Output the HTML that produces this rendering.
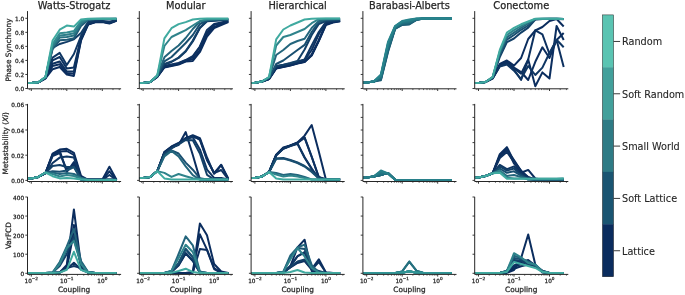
<!DOCTYPE html>
<html><head><meta charset="utf-8"><title>figure</title>
<style>html,body{margin:0;padding:0;background:#fff;} svg{display:block;font-family:'DejaVu Sans', 'Liberation Sans', sans-serif;} text{stroke:#262626;stroke-width:0.25px;}</style>
</head><body>
<svg width="685" height="295" viewBox="0 0 685 295">
<rect width="685" height="295" fill="#ffffff"/>
<text x="74.05" y="8.8" font-size="9.8" text-anchor="middle" fill="#262626">Watts-Strogatz</text>
<text x="185.85" y="8.8" font-size="9.8" text-anchor="middle" fill="#262626">Modular</text>
<text x="297.65" y="8.8" font-size="9.8" text-anchor="middle" fill="#262626">Hierarchical</text>
<text x="409.45" y="8.8" font-size="9.8" text-anchor="middle" fill="#262626">Barabasi-Alberts</text>
<text x="521.25" y="8.8" font-size="9.8" text-anchor="middle" fill="#262626">Conectome</text>
<polyline points="27.75,83.00 31.30,82.90 38.40,82.30 45.50,78.50 52.60,69.20 59.70,67.00 66.80,74.50 73.90,75.90 81.00,40.50 88.10,24.50 95.20,22.30 102.30,22.00 109.40,23.50 116.50,20.80" fill="none" stroke="#0b2d5e" stroke-width="2" stroke-linejoin="round" stroke-linecap="butt"/>
<polyline points="27.75,83.00 31.30,82.90 38.40,82.30 45.50,78.00 52.60,66.00 59.70,64.30 66.80,73.00 73.90,73.80 81.00,39.50 88.10,24.20 95.20,22.00 102.30,21.80 109.40,23.00 116.50,20.50" fill="none" stroke="#0c2e5f" stroke-width="2" stroke-linejoin="round" stroke-linecap="butt"/>
<polyline points="27.75,83.00 31.30,82.90 38.40,82.30 45.50,78.00 52.60,63.70 59.70,61.50 66.80,71.50 73.90,71.50 81.00,38.50 88.10,24.00 95.20,21.80 102.30,21.50 109.40,23.00 116.50,20.30" fill="none" stroke="#0c305f" stroke-width="2" stroke-linejoin="round" stroke-linecap="butt"/>
<polyline points="27.75,83.00 31.30,82.90 38.40,82.30 45.50,78.00 52.60,60.30 59.70,57.00 66.80,68.40 73.90,67.50 81.00,37.50 88.10,23.70 95.20,21.50 102.30,21.50 109.40,22.50 116.50,20.10" fill="none" stroke="#0d3261" stroke-width="2" stroke-linejoin="round" stroke-linecap="butt"/>
<polyline points="27.75,83.00 31.30,82.90 38.40,82.30 45.50,77.50 52.60,57.60 59.70,52.90 66.80,65.00 73.90,54.00 81.00,36.00 88.10,23.30 95.20,21.00 102.30,21.00 109.40,22.00 116.50,20.00" fill="none" stroke="#0f3663" stroke-width="2" stroke-linejoin="round" stroke-linecap="butt"/>
<polyline points="27.75,83.00 31.30,82.90 38.40,82.30 45.50,77.50 52.60,48.00 59.70,44.00 66.80,41.90 73.90,39.30 81.00,33.00 88.10,22.00 95.20,19.80 102.30,19.50 109.40,19.50 116.50,19.20" fill="none" stroke="#113c66" stroke-width="2" stroke-linejoin="round" stroke-linecap="butt"/>
<polyline points="27.75,83.00 31.30,82.90 38.40,82.30 45.50,77.50 52.60,49.00 59.70,40.30 66.80,39.80 73.90,38.30 81.00,26.00 88.10,20.00 95.20,19.20 102.30,19.00 109.40,19.00 116.50,18.90" fill="none" stroke="#1e5975" stroke-width="2" stroke-linejoin="round" stroke-linecap="butt"/>
<polyline points="27.75,83.00 31.30,82.90 38.40,82.30 45.50,77.00 52.60,47.00 59.70,37.60 66.80,37.00 73.90,35.50 81.00,24.00 88.10,19.50 95.20,19.00 102.30,18.90 109.40,18.90 116.50,18.80" fill="none" stroke="#287282" stroke-width="2" stroke-linejoin="round" stroke-linecap="butt"/>
<polyline points="27.75,83.00 31.30,82.90 38.40,82.30 45.50,77.00 52.60,45.50 59.70,35.40 66.80,34.80 73.90,33.30 81.00,22.30 88.10,19.20 95.20,18.90 102.30,18.80 109.40,18.80 116.50,18.70" fill="none" stroke="#2d7e89" stroke-width="2" stroke-linejoin="round" stroke-linecap="butt"/>
<polyline points="27.75,83.00 31.30,82.90 38.40,82.30 45.50,77.00 52.60,44.00 59.70,33.20 66.80,32.60 73.90,31.00 81.00,21.00 88.10,18.90 95.20,18.80 102.30,18.70 109.40,18.70 116.50,18.70" fill="none" stroke="#338b90" stroke-width="2" stroke-linejoin="round" stroke-linecap="butt"/>
<polyline points="27.75,83.00 31.30,82.90 38.40,82.30 45.50,77.00 52.60,40.50 59.70,29.70 66.80,25.60 73.90,26.60 81.00,19.50 88.10,18.70 95.20,18.70 102.30,18.70 109.40,18.70 116.50,18.70" fill="none" stroke="#40aaa0" stroke-width="2" stroke-linejoin="round" stroke-linecap="butt"/>
<path d="M27.50,11.60 V88.80 H120.60" fill="none" stroke="#262626" stroke-width="1" stroke-linecap="square"/>
<path d="M25.30,88.50 H27.50 M25.30,74.46 H27.50 M25.30,60.42 H27.50 M25.30,46.38 H27.50 M25.30,32.34 H27.50 M25.30,18.30 H27.50 M31.30,88.80 v2.2 M66.80,88.80 v2.2 M102.30,88.80 v2.2 " stroke="#262626" stroke-width="0.9" fill="none"/>
<path d="M29.68,88.80 v1.3 M41.99,88.80 v1.3 M48.24,88.80 v1.3 M52.67,88.80 v1.3 M56.11,88.80 v1.3 M58.92,88.80 v1.3 M61.30,88.80 v1.3 M63.36,88.80 v1.3 M65.18,88.80 v1.3 M77.49,88.80 v1.3 M83.74,88.80 v1.3 M88.17,88.80 v1.3 M91.61,88.80 v1.3 M94.42,88.80 v1.3 M96.80,88.80 v1.3 M98.86,88.80 v1.3 M100.68,88.80 v1.3 M112.99,88.80 v1.3 M119.24,88.80 v1.3 " stroke="#262626" stroke-width="0.7" fill="none"/>
<text x="24.10" y="91.10" font-size="5.75" text-anchor="end" fill="#262626">0.0</text>
<text x="24.10" y="77.06" font-size="5.75" text-anchor="end" fill="#262626">0.2</text>
<text x="24.10" y="63.02" font-size="5.75" text-anchor="end" fill="#262626">0.4</text>
<text x="24.10" y="48.98" font-size="5.75" text-anchor="end" fill="#262626">0.6</text>
<text x="24.10" y="34.94" font-size="5.75" text-anchor="end" fill="#262626">0.8</text>
<text x="24.10" y="20.90" font-size="5.75" text-anchor="end" fill="#262626">1.0</text>
<polyline points="139.55,83.00 143.10,82.90 150.20,82.00 157.30,77.00 164.40,67.50 171.50,66.00 178.60,64.50 185.70,61.50 192.80,61.00 199.90,52.00 207.00,36.50 214.10,28.00 221.20,25.00 228.30,22.00" fill="none" stroke="#0b2d5e" stroke-width="2" stroke-linejoin="round" stroke-linecap="butt"/>
<polyline points="139.55,83.00 143.10,82.90 150.20,82.00 157.30,77.00 164.40,67.00 171.50,65.50 178.60,64.00 185.70,61.00 192.80,59.00 199.90,50.00 207.00,34.00 214.10,27.20 221.20,24.00 228.30,21.50" fill="none" stroke="#0b2d5e" stroke-width="2" stroke-linejoin="round" stroke-linecap="butt"/>
<polyline points="139.55,83.00 143.10,82.90 150.20,82.00 157.30,76.50 164.40,66.50 171.50,65.00 178.60,63.50 185.70,60.50 192.80,57.00 199.90,47.00 207.00,32.60 214.10,25.00 221.20,23.00 228.30,21.10" fill="none" stroke="#0b2e5f" stroke-width="2" stroke-linejoin="round" stroke-linecap="butt"/>
<polyline points="139.55,83.00 143.10,82.90 150.20,82.00 157.30,76.50 164.40,66.00 171.50,64.50 178.60,63.00 185.70,60.00 192.80,56.00 199.90,46.50 207.00,30.00 214.10,24.00 221.20,22.50 228.30,21.00" fill="none" stroke="#0d3160" stroke-width="2" stroke-linejoin="round" stroke-linecap="butt"/>
<polyline points="139.55,83.00 143.10,82.90 150.20,82.00 157.30,76.50 164.40,64.50 171.50,62.00 178.60,58.00 185.70,51.50 192.80,41.50 199.90,28.00 207.00,21.20 214.10,20.70 221.20,20.20 228.30,20.00" fill="none" stroke="#0f3663" stroke-width="2" stroke-linejoin="round" stroke-linecap="butt"/>
<polyline points="139.55,83.00 143.10,82.90 150.20,82.00 157.30,76.50 164.40,64.00 171.50,61.50 178.60,57.50 185.70,51.00 192.80,40.50 199.90,27.50 207.00,21.00 214.10,20.50 221.20,20.00 228.30,19.80" fill="none" stroke="#134068" stroke-width="2" stroke-linejoin="round" stroke-linecap="butt"/>
<polyline points="139.55,83.00 143.10,82.90 150.20,82.00 157.30,76.00 164.40,61.40 171.50,57.00 178.60,50.00 185.70,43.00 192.80,35.00 199.90,24.00 207.00,20.50 214.10,20.00 221.20,19.70 228.30,19.50" fill="none" stroke="#194f70" stroke-width="2" stroke-linejoin="round" stroke-linecap="butt"/>
<polyline points="139.55,83.00 143.10,82.90 150.20,82.00 157.30,75.50 164.40,57.30 171.50,51.00 178.60,45.50 185.70,38.00 192.80,29.00 199.90,21.50 207.00,19.80 214.10,19.50 221.20,19.30 228.30,19.20" fill="none" stroke="#23657c" stroke-width="2" stroke-linejoin="round" stroke-linecap="butt"/>
<polyline points="139.55,83.00 143.10,82.90 150.20,82.00 157.30,75.50 164.40,46.00 171.50,37.00 178.60,33.50 185.70,30.20 192.80,25.50 199.90,21.00 207.00,19.50 214.10,19.20 221.20,19.00 228.30,19.00" fill="none" stroke="#2f838b" stroke-width="2" stroke-linejoin="round" stroke-linecap="butt"/>
<polyline points="139.55,83.00 143.10,82.90 150.20,82.00 157.30,75.50 164.40,38.40 171.50,28.20 178.60,24.10 185.70,22.10 192.80,19.50 199.90,18.70 207.00,18.50 214.10,18.50 221.20,18.50 228.30,18.50" fill="none" stroke="#40aaa0" stroke-width="2" stroke-linejoin="round" stroke-linecap="butt"/>
<path d="M139.30,11.60 V88.80 H232.40" fill="none" stroke="#262626" stroke-width="1" stroke-linecap="square"/>
<path d="M137.10,88.50 H139.30 M137.10,74.46 H139.30 M137.10,60.42 H139.30 M137.10,46.38 H139.30 M137.10,32.34 H139.30 M137.10,18.30 H139.30 M143.10,88.80 v2.2 M178.60,88.80 v2.2 M214.10,88.80 v2.2 " stroke="#262626" stroke-width="0.9" fill="none"/>
<path d="M141.48,88.80 v1.3 M153.79,88.80 v1.3 M160.04,88.80 v1.3 M164.47,88.80 v1.3 M167.91,88.80 v1.3 M170.72,88.80 v1.3 M173.10,88.80 v1.3 M175.16,88.80 v1.3 M176.98,88.80 v1.3 M189.29,88.80 v1.3 M195.54,88.80 v1.3 M199.97,88.80 v1.3 M203.41,88.80 v1.3 M206.22,88.80 v1.3 M208.60,88.80 v1.3 M210.66,88.80 v1.3 M212.48,88.80 v1.3 M224.79,88.80 v1.3 M231.04,88.80 v1.3 " stroke="#262626" stroke-width="0.7" fill="none"/>
<polyline points="251.35,83.00 254.90,82.80 262.00,81.50 269.10,79.00 276.20,68.50 283.30,67.00 290.40,65.50 297.50,63.50 304.60,62.00 311.70,55.50 318.80,41.00 325.90,25.00 333.00,22.50 340.10,21.30" fill="none" stroke="#0b2d5e" stroke-width="2" stroke-linejoin="round" stroke-linecap="butt"/>
<polyline points="251.35,83.00 254.90,82.80 262.00,81.50 269.10,79.00 276.20,68.20 283.30,66.80 290.40,65.30 297.50,63.30 304.60,61.80 311.70,55.00 318.80,40.40 325.90,24.20 333.00,22.10 340.10,21.10" fill="none" stroke="#0b2d5e" stroke-width="2" stroke-linejoin="round" stroke-linecap="butt"/>
<polyline points="251.35,83.00 254.90,82.80 262.00,81.50 269.10,79.00 276.20,68.00 283.30,66.50 290.40,65.00 297.50,63.00 304.60,61.50 311.70,54.70 318.80,40.40 325.90,24.20 333.00,22.10 340.10,21.10" fill="none" stroke="#0b2e5f" stroke-width="2" stroke-linejoin="round" stroke-linecap="butt"/>
<polyline points="251.35,83.00 254.90,82.80 262.00,81.50 269.10,78.50 276.20,67.00 283.30,65.50 290.40,64.00 297.50,62.00 304.60,60.00 311.70,50.00 318.80,34.30 325.90,22.50 333.00,21.00 340.10,20.60" fill="none" stroke="#0d3160" stroke-width="2" stroke-linejoin="round" stroke-linecap="butt"/>
<polyline points="251.35,83.00 254.90,82.80 262.00,81.50 269.10,78.50 276.20,66.50 283.30,65.00 290.40,63.50 297.50,61.50 304.60,59.50 311.70,45.50 318.80,32.00 325.90,22.00 333.00,21.00 340.10,20.50" fill="none" stroke="#0f3663" stroke-width="2" stroke-linejoin="round" stroke-linecap="butt"/>
<polyline points="251.35,83.00 254.90,82.80 262.00,81.50 269.10,78.00 276.20,66.00 283.30,64.80 290.40,63.00 297.50,61.00 304.60,49.50 311.70,35.00 318.80,24.00 325.90,21.00 333.00,20.50 340.10,20.00" fill="none" stroke="#134068" stroke-width="2" stroke-linejoin="round" stroke-linecap="butt"/>
<polyline points="251.35,83.00 254.90,82.80 262.00,81.50 269.10,78.00 276.20,64.00 283.30,60.50 290.40,55.20 297.50,50.00 304.60,44.90 311.70,32.00 318.80,22.00 325.90,20.00 333.00,19.50 340.10,19.20" fill="none" stroke="#194f70" stroke-width="2" stroke-linejoin="round" stroke-linecap="butt"/>
<polyline points="251.35,83.00 254.90,82.80 262.00,81.50 269.10,77.50 276.20,55.00 283.30,50.00 290.40,44.00 297.50,41.00 304.60,38.80 311.70,28.00 318.80,21.00 325.90,19.50 333.00,19.20 340.10,19.00" fill="none" stroke="#23657c" stroke-width="2" stroke-linejoin="round" stroke-linecap="butt"/>
<polyline points="251.35,83.00 254.90,82.80 262.00,81.50 269.10,77.00 276.20,45.50 283.30,37.00 290.40,35.00 297.50,32.00 304.60,29.00 311.70,23.20 318.80,19.10 325.90,18.80 333.00,18.70 340.10,18.70" fill="none" stroke="#2f838b" stroke-width="2" stroke-linejoin="round" stroke-linecap="butt"/>
<polyline points="251.35,83.00 254.90,82.80 262.00,81.50 269.10,77.00 276.20,39.40 283.30,29.50 290.40,25.50 297.50,22.50 304.60,19.50 311.70,18.70 318.80,18.50 325.90,18.50 333.00,18.50 340.10,18.50" fill="none" stroke="#40aaa0" stroke-width="2" stroke-linejoin="round" stroke-linecap="butt"/>
<path d="M251.10,11.60 V88.80 H344.20" fill="none" stroke="#262626" stroke-width="1" stroke-linecap="square"/>
<path d="M248.90,88.50 H251.10 M248.90,74.46 H251.10 M248.90,60.42 H251.10 M248.90,46.38 H251.10 M248.90,32.34 H251.10 M248.90,18.30 H251.10 M254.90,88.80 v2.2 M290.40,88.80 v2.2 M325.90,88.80 v2.2 " stroke="#262626" stroke-width="0.9" fill="none"/>
<path d="M253.28,88.80 v1.3 M265.59,88.80 v1.3 M271.84,88.80 v1.3 M276.27,88.80 v1.3 M279.71,88.80 v1.3 M282.52,88.80 v1.3 M284.90,88.80 v1.3 M286.96,88.80 v1.3 M288.78,88.80 v1.3 M301.09,88.80 v1.3 M307.34,88.80 v1.3 M311.77,88.80 v1.3 M315.21,88.80 v1.3 M318.02,88.80 v1.3 M320.40,88.80 v1.3 M322.46,88.80 v1.3 M324.28,88.80 v1.3 M336.59,88.80 v1.3 M342.84,88.80 v1.3 " stroke="#262626" stroke-width="0.7" fill="none"/>
<polyline points="363.15,82.80 366.70,82.50 373.80,81.50 380.90,80.20 388.00,52.00 395.10,29.00 402.20,25.00 409.30,24.50 416.40,20.00 423.50,18.60 430.60,18.50 437.70,18.50 444.80,18.50 451.90,18.70" fill="none" stroke="#1c5a73" stroke-width="2" stroke-linejoin="round" stroke-linecap="butt"/>
<polyline points="363.15,82.80 366.70,82.50 373.80,81.50 380.90,79.57 388.00,50.89 395.10,28.67 402.20,24.56 409.30,23.94 416.40,19.83 423.50,18.60 430.60,18.50 437.70,18.50 444.80,18.50 451.90,18.70" fill="none" stroke="#1d5f76" stroke-width="2" stroke-linejoin="round" stroke-linecap="butt"/>
<polyline points="363.15,82.80 366.70,82.50 373.80,81.50 380.90,78.93 388.00,49.78 395.10,28.33 402.20,24.11 409.30,23.39 416.40,19.67 423.50,18.60 430.60,18.50 437.70,18.50 444.80,18.50 451.90,18.70" fill="none" stroke="#1f6379" stroke-width="2" stroke-linejoin="round" stroke-linecap="butt"/>
<polyline points="363.15,82.80 366.70,82.50 373.80,81.50 380.90,78.30 388.00,48.67 395.10,28.00 402.20,23.67 409.30,22.83 416.40,19.50 423.50,18.60 430.60,18.50 437.70,18.50 444.80,18.50 451.90,18.70" fill="none" stroke="#20687b" stroke-width="2" stroke-linejoin="round" stroke-linecap="butt"/>
<polyline points="363.15,82.80 366.70,82.50 373.80,81.50 380.90,77.67 388.00,47.56 395.10,27.67 402.20,23.22 409.30,22.28 416.40,19.33 423.50,18.60 430.60,18.50 437.70,18.50 444.80,18.50 451.90,18.70" fill="none" stroke="#216d7e" stroke-width="2" stroke-linejoin="round" stroke-linecap="butt"/>
<polyline points="363.15,82.80 366.70,82.50 373.80,81.50 380.90,77.03 388.00,46.44 395.10,27.33 402.20,22.78 409.30,21.72 416.40,19.17 423.50,18.60 430.60,18.50 437.70,18.50 444.80,18.50 451.90,18.70" fill="none" stroke="#237181" stroke-width="2" stroke-linejoin="round" stroke-linecap="butt"/>
<polyline points="363.15,82.80 366.70,82.50 373.80,81.50 380.90,76.40 388.00,45.33 395.10,27.00 402.20,22.33 409.30,21.17 416.40,19.00 423.50,18.60 430.60,18.50 437.70,18.50 444.80,18.50 451.90,18.70" fill="none" stroke="#247684" stroke-width="2" stroke-linejoin="round" stroke-linecap="butt"/>
<polyline points="363.15,82.80 366.70,82.50 373.80,81.50 380.90,75.77 388.00,44.22 395.10,26.67 402.20,21.89 409.30,20.61 416.40,18.83 423.50,18.60 430.60,18.50 437.70,18.50 444.80,18.50 451.90,18.70" fill="none" stroke="#257b86" stroke-width="2" stroke-linejoin="round" stroke-linecap="butt"/>
<polyline points="363.15,82.80 366.70,82.50 373.80,81.50 380.90,75.13 388.00,43.11 395.10,26.33 402.20,21.44 409.30,20.06 416.40,18.67 423.50,18.60 430.60,18.50 437.70,18.50 444.80,18.50 451.90,18.70" fill="none" stroke="#277f89" stroke-width="2" stroke-linejoin="round" stroke-linecap="butt"/>
<polyline points="363.15,82.80 366.70,82.50 373.80,81.50 380.90,74.50 388.00,42.00 395.10,26.00 402.20,21.00 409.30,19.50 416.40,18.50 423.50,18.60 430.60,18.50 437.70,18.50 444.80,18.50 451.90,18.70" fill="none" stroke="#28848c" stroke-width="2" stroke-linejoin="round" stroke-linecap="butt"/>
<path d="M362.90,11.60 V88.80 H456.00" fill="none" stroke="#262626" stroke-width="1" stroke-linecap="square"/>
<path d="M360.70,88.50 H362.90 M360.70,74.46 H362.90 M360.70,60.42 H362.90 M360.70,46.38 H362.90 M360.70,32.34 H362.90 M360.70,18.30 H362.90 M366.70,88.80 v2.2 M402.20,88.80 v2.2 M437.70,88.80 v2.2 " stroke="#262626" stroke-width="0.9" fill="none"/>
<path d="M365.08,88.80 v1.3 M377.39,88.80 v1.3 M383.64,88.80 v1.3 M388.07,88.80 v1.3 M391.51,88.80 v1.3 M394.32,88.80 v1.3 M396.70,88.80 v1.3 M398.76,88.80 v1.3 M400.58,88.80 v1.3 M412.89,88.80 v1.3 M419.14,88.80 v1.3 M423.57,88.80 v1.3 M427.01,88.80 v1.3 M429.82,88.80 v1.3 M432.20,88.80 v1.3 M434.26,88.80 v1.3 M436.08,88.80 v1.3 M448.39,88.80 v1.3 M454.64,88.80 v1.3 " stroke="#262626" stroke-width="0.7" fill="none"/>
<polyline points="474.95,83.00 478.50,82.90 485.60,82.00 492.70,78.00 499.80,64.00 506.90,60.50 514.00,65.60 521.10,58.00 528.20,39.00 535.30,30.50 542.40,27.00 549.50,21.00 556.60,19.00 563.70,26.50" fill="none" stroke="#0b2d5e" stroke-width="2" stroke-linejoin="round" stroke-linecap="butt"/>
<polyline points="474.95,83.00 478.50,82.90 485.60,82.00 492.70,78.00 499.80,65.00 506.90,62.00 514.00,67.50 521.10,72.00 528.20,80.00 535.30,61.80 542.40,47.30 549.50,58.00 556.60,40.00 563.70,33.00" fill="none" stroke="#0b2d5e" stroke-width="2" stroke-linejoin="round" stroke-linecap="butt"/>
<polyline points="474.95,83.00 478.50,82.90 485.60,82.00 492.70,78.00 499.80,66.00 506.90,63.60 514.00,69.70 521.10,80.00 528.20,59.50 535.30,86.20 542.40,72.40 549.50,78.50 556.60,26.00 563.70,40.00" fill="none" stroke="#0b2e5f" stroke-width="2" stroke-linejoin="round" stroke-linecap="butt"/>
<polyline points="474.95,83.00 478.50,82.90 485.60,82.00 492.70,78.00 499.80,65.50 506.90,63.00 514.00,68.50 521.10,73.70 528.20,59.50 535.30,30.30 542.40,34.30 549.50,54.00 556.60,40.00 563.70,67.00" fill="none" stroke="#0d3160" stroke-width="2" stroke-linejoin="round" stroke-linecap="butt"/>
<polyline points="474.95,83.00 478.50,82.90 485.60,82.00 492.70,78.50 499.80,66.50 506.90,64.50 514.00,70.70 521.10,78.80 528.20,66.00 535.30,75.00 542.40,67.60 549.50,53.00 556.60,39.70 563.70,47.20" fill="none" stroke="#0f3663" stroke-width="2" stroke-linejoin="round" stroke-linecap="butt"/>
<polyline points="474.95,83.00 478.50,82.90 485.60,82.00 492.70,77.50 499.80,57.00 506.90,42.10 514.00,38.50 521.10,32.60 528.20,27.60 535.30,19.50 542.40,19.00 549.50,18.90 556.60,18.90 563.70,19.20" fill="none" stroke="#134068" stroke-width="2" stroke-linejoin="round" stroke-linecap="butt"/>
<polyline points="474.95,83.00 478.50,82.90 485.60,82.00 492.70,77.50 499.80,55.00 506.90,39.70 514.00,35.00 521.10,29.80 528.20,25.50 535.30,19.20 542.40,18.90 549.50,18.80 556.60,18.80 563.70,19.10" fill="none" stroke="#194f70" stroke-width="2" stroke-linejoin="round" stroke-linecap="butt"/>
<polyline points="474.95,83.00 478.50,82.90 485.60,82.00 492.70,77.00 499.80,53.00 506.90,37.40 514.00,32.60 521.10,27.90 528.20,23.50 535.30,19.00 542.40,18.80 549.50,18.70 556.60,18.70 563.70,19.00" fill="none" stroke="#23657c" stroke-width="2" stroke-linejoin="round" stroke-linecap="butt"/>
<polyline points="474.95,83.00 478.50,82.90 485.60,82.00 492.70,77.00 499.80,51.50 506.90,35.00 514.00,30.20 521.10,26.00 528.20,22.10 535.30,18.90 542.40,18.70 549.50,18.70 556.60,18.70 563.70,19.00" fill="none" stroke="#2f838b" stroke-width="2" stroke-linejoin="round" stroke-linecap="butt"/>
<polyline points="474.95,83.00 478.50,82.90 485.60,82.00 492.70,77.00 499.80,50.00 506.90,32.60 514.00,27.90 521.10,24.30 528.20,21.50 535.30,18.80 542.40,18.70 549.50,18.70 556.60,18.70 563.70,19.00" fill="none" stroke="#40aaa0" stroke-width="2" stroke-linejoin="round" stroke-linecap="butt"/>
<path d="M474.70,11.60 V88.80 H567.80" fill="none" stroke="#262626" stroke-width="1" stroke-linecap="square"/>
<path d="M472.50,88.50 H474.70 M472.50,74.46 H474.70 M472.50,60.42 H474.70 M472.50,46.38 H474.70 M472.50,32.34 H474.70 M472.50,18.30 H474.70 M478.50,88.80 v2.2 M514.00,88.80 v2.2 M549.50,88.80 v2.2 " stroke="#262626" stroke-width="0.9" fill="none"/>
<path d="M476.88,88.80 v1.3 M489.19,88.80 v1.3 M495.44,88.80 v1.3 M499.87,88.80 v1.3 M503.31,88.80 v1.3 M506.12,88.80 v1.3 M508.50,88.80 v1.3 M510.56,88.80 v1.3 M512.38,88.80 v1.3 M524.69,88.80 v1.3 M530.94,88.80 v1.3 M535.37,88.80 v1.3 M538.81,88.80 v1.3 M541.62,88.80 v1.3 M544.00,88.80 v1.3 M546.06,88.80 v1.3 M547.88,88.80 v1.3 M560.19,88.80 v1.3 M566.44,88.80 v1.3 " stroke="#262626" stroke-width="0.7" fill="none"/>
<polyline points="27.75,178.40 31.30,178.40 38.40,176.90 45.50,173.00 52.60,153.50 59.70,149.50 66.80,148.80 73.90,152.80 81.00,175.90 88.10,179.80 95.20,179.80 102.30,179.80 109.40,166.70 116.50,179.80" fill="none" stroke="#0b2d5e" stroke-width="2" stroke-linejoin="round" stroke-linecap="butt"/>
<polyline points="27.75,178.40 31.30,178.40 38.40,176.90 45.50,173.00 52.60,154.50 59.70,151.50 66.80,151.00 73.90,155.00 81.00,177.50 88.10,179.80 95.20,179.80 102.30,179.80 109.40,179.80 116.50,179.80" fill="none" stroke="#0b2d5e" stroke-width="2" stroke-linejoin="round" stroke-linecap="butt"/>
<polyline points="27.75,178.40 31.30,178.40 38.40,176.90 45.50,173.00 52.60,155.00 59.70,150.50 66.80,172.00 73.90,162.00 81.00,179.50 88.10,179.80 95.20,179.80 102.30,179.80 109.40,171.30 116.50,179.80" fill="none" stroke="#0b2e5f" stroke-width="2" stroke-linejoin="round" stroke-linecap="butt"/>
<polyline points="27.75,178.40 31.30,178.40 38.40,176.90 45.50,173.00 52.60,156.00 59.70,153.00 66.80,170.00 73.90,165.00 81.00,179.50 88.10,179.80 95.20,179.80 102.30,179.80 109.40,175.00 116.50,179.80" fill="none" stroke="#0d3160" stroke-width="2" stroke-linejoin="round" stroke-linecap="butt"/>
<polyline points="27.75,178.40 31.30,178.40 38.40,176.90 45.50,173.00 52.60,163.00 59.70,157.60 66.80,156.50 73.90,157.50 81.00,178.50 88.10,179.80 95.20,179.80 102.30,179.80 109.40,179.80 116.50,179.80" fill="none" stroke="#0f3663" stroke-width="2" stroke-linejoin="round" stroke-linecap="butt"/>
<polyline points="27.75,178.40 31.30,178.40 38.40,176.90 45.50,173.00 52.60,166.00 59.70,165.00 66.80,167.00 73.90,167.00 81.00,179.50 88.10,179.80 95.20,179.80 102.30,179.80 109.40,179.80 116.50,179.80" fill="none" stroke="#134068" stroke-width="2" stroke-linejoin="round" stroke-linecap="butt"/>
<polyline points="27.75,178.40 31.30,178.40 38.40,176.90 45.50,172.80 52.60,171.20 59.70,171.80 66.80,170.50 73.90,167.00 81.00,178.50 88.10,179.80 95.20,179.80 102.30,179.80 109.40,179.80 116.50,179.80" fill="none" stroke="#194f70" stroke-width="2" stroke-linejoin="round" stroke-linecap="butt"/>
<polyline points="27.75,178.40 31.30,178.40 38.40,176.90 45.50,172.50 52.60,172.50 59.70,174.00 66.80,173.00 73.90,174.00 81.00,177.70 88.10,179.80 95.20,179.80 102.30,179.80 109.40,179.80 116.50,179.80" fill="none" stroke="#23657c" stroke-width="2" stroke-linejoin="round" stroke-linecap="butt"/>
<polyline points="27.75,178.40 31.30,178.40 38.40,176.90 45.50,172.50 52.60,174.00 59.70,176.50 66.80,175.00 73.90,176.00 81.00,178.50 88.10,180.00 95.20,180.00 102.30,180.00 109.40,180.00 116.50,180.00" fill="none" stroke="#2f838b" stroke-width="2" stroke-linejoin="round" stroke-linecap="butt"/>
<polyline points="27.75,178.40 31.30,178.40 38.40,176.90 45.50,172.50 52.60,176.20 59.70,178.40 66.80,178.00 73.90,178.40 81.00,179.50 88.10,180.00 95.20,180.00 102.30,180.00 109.40,180.00 116.50,180.00" fill="none" stroke="#40aaa0" stroke-width="2" stroke-linejoin="round" stroke-linecap="butt"/>
<path d="M27.50,104.40 V181.50 H120.60" fill="none" stroke="#262626" stroke-width="1" stroke-linecap="square"/>
<path d="M25.30,180.40 H27.50 M25.30,155.20 H27.50 M25.30,130.00 H27.50 M25.30,104.80 H27.50 M31.30,181.50 v2.2 M66.80,181.50 v2.2 M102.30,181.50 v2.2 " stroke="#262626" stroke-width="0.9" fill="none"/>
<path d="M29.68,181.50 v1.3 M41.99,181.50 v1.3 M48.24,181.50 v1.3 M52.67,181.50 v1.3 M56.11,181.50 v1.3 M58.92,181.50 v1.3 M61.30,181.50 v1.3 M63.36,181.50 v1.3 M65.18,181.50 v1.3 M77.49,181.50 v1.3 M83.74,181.50 v1.3 M88.17,181.50 v1.3 M91.61,181.50 v1.3 M94.42,181.50 v1.3 M96.80,181.50 v1.3 M98.86,181.50 v1.3 M100.68,181.50 v1.3 M112.99,181.50 v1.3 M119.24,181.50 v1.3 " stroke="#262626" stroke-width="0.7" fill="none"/>
<text x="24.10" y="183.00" font-size="5.75" text-anchor="end" fill="#262626">0.00</text>
<text x="24.10" y="157.80" font-size="5.75" text-anchor="end" fill="#262626">0.02</text>
<text x="24.10" y="132.60" font-size="5.75" text-anchor="end" fill="#262626">0.04</text>
<text x="24.10" y="107.40" font-size="5.75" text-anchor="end" fill="#262626">0.06</text>
<polyline points="139.55,177.90 143.10,177.90 150.20,177.10 157.30,171.10 164.40,152.00 171.50,147.00 178.60,145.00 185.70,132.10 192.80,155.00 199.90,179.40 207.00,179.50 214.10,179.50 221.20,179.50 228.30,179.50" fill="none" stroke="#0b2d5e" stroke-width="2" stroke-linejoin="round" stroke-linecap="butt"/>
<polyline points="139.55,177.90 143.10,177.90 150.20,177.10 157.30,171.10 164.40,152.00 171.50,146.50 178.60,143.00 185.70,138.00 192.80,136.50 199.90,139.00 207.00,159.70 214.10,172.90 221.20,165.20 228.30,178.40" fill="none" stroke="#0b2d5e" stroke-width="2" stroke-linejoin="round" stroke-linecap="butt"/>
<polyline points="139.55,177.90 143.10,177.90 150.20,177.10 157.30,171.10 164.40,152.50 171.50,147.00 178.60,143.50 185.70,138.20 192.80,135.20 199.90,138.20 207.00,157.50 214.10,173.80 221.20,164.70 228.30,179.40" fill="none" stroke="#0b2e5f" stroke-width="2" stroke-linejoin="round" stroke-linecap="butt"/>
<polyline points="139.55,177.90 143.10,177.90 150.20,177.10 157.30,171.10 164.40,153.00 171.50,147.60 178.60,144.20 185.70,138.50 192.80,136.00 199.90,140.00 207.00,160.00 214.10,173.00 221.20,170.00 228.30,179.50" fill="none" stroke="#0d3160" stroke-width="2" stroke-linejoin="round" stroke-linecap="butt"/>
<polyline points="139.55,177.90 143.10,177.90 150.20,177.10 157.30,171.10 164.40,153.50 171.50,148.00 178.60,144.00 185.70,139.00 192.80,137.20 199.90,149.40 207.00,169.70 214.10,177.90 221.20,178.00 228.30,179.50" fill="none" stroke="#0f3663" stroke-width="2" stroke-linejoin="round" stroke-linecap="butt"/>
<polyline points="139.55,177.90 143.10,177.90 150.20,177.10 157.30,171.10 164.40,154.00 171.50,148.50 178.60,144.50 185.70,140.00 192.80,140.30 199.90,153.50 207.00,174.80 214.10,179.50 221.20,179.50 228.30,179.50" fill="none" stroke="#134068" stroke-width="2" stroke-linejoin="round" stroke-linecap="butt"/>
<polyline points="139.55,177.90 143.10,177.90 150.20,177.10 157.30,171.10 164.40,155.00 171.50,150.40 178.60,153.50 185.70,162.60 192.80,169.70 199.90,178.30 207.00,179.50 214.10,179.50 221.20,179.50 228.30,179.50" fill="none" stroke="#194f70" stroke-width="2" stroke-linejoin="round" stroke-linecap="butt"/>
<polyline points="139.55,177.90 143.10,177.90 150.20,177.10 157.30,171.10 164.40,156.40 171.50,150.90 178.60,156.40 185.70,166.30 192.80,175.10 199.90,179.50 207.00,179.50 214.10,179.50 221.20,179.50 228.30,179.50" fill="none" stroke="#23657c" stroke-width="2" stroke-linejoin="round" stroke-linecap="butt"/>
<polyline points="139.55,177.90 143.10,177.90 150.20,177.10 157.30,171.10 164.40,172.90 171.50,176.90 178.60,174.00 185.70,176.20 192.80,178.30 199.90,179.50 207.00,179.50 214.10,179.50 221.20,179.50 228.30,179.50" fill="none" stroke="#2f838b" stroke-width="2" stroke-linejoin="round" stroke-linecap="butt"/>
<polyline points="139.55,177.90 143.10,177.90 150.20,177.10 157.30,171.10 164.40,178.40 171.50,179.50 178.60,179.50 185.70,179.50 192.80,179.50 199.90,179.50 207.00,179.50 214.10,179.50 221.20,179.50 228.30,179.50" fill="none" stroke="#40aaa0" stroke-width="2" stroke-linejoin="round" stroke-linecap="butt"/>
<path d="M139.30,104.40 V181.50 H232.40" fill="none" stroke="#262626" stroke-width="1" stroke-linecap="square"/>
<path d="M137.10,180.40 H139.30 M137.10,167.80 H139.30 M137.10,155.20 H139.30 M137.10,142.60 H139.30 M137.10,130.00 H139.30 M137.10,117.40 H139.30 M137.10,104.80 H139.30 M143.10,181.50 v2.2 M178.60,181.50 v2.2 M214.10,181.50 v2.2 " stroke="#262626" stroke-width="0.9" fill="none"/>
<path d="M141.48,181.50 v1.3 M153.79,181.50 v1.3 M160.04,181.50 v1.3 M164.47,181.50 v1.3 M167.91,181.50 v1.3 M170.72,181.50 v1.3 M173.10,181.50 v1.3 M175.16,181.50 v1.3 M176.98,181.50 v1.3 M189.29,181.50 v1.3 M195.54,181.50 v1.3 M199.97,181.50 v1.3 M203.41,181.50 v1.3 M206.22,181.50 v1.3 M208.60,181.50 v1.3 M210.66,181.50 v1.3 M212.48,181.50 v1.3 M224.79,181.50 v1.3 M231.04,181.50 v1.3 " stroke="#262626" stroke-width="0.7" fill="none"/>
<polyline points="251.35,177.90 254.90,177.90 262.00,176.40 269.10,172.00 276.20,154.60 283.30,147.50 290.40,145.40 297.50,142.40 304.60,135.60 311.70,125.00 318.80,151.50 325.90,179.50 333.00,179.50 340.10,179.50" fill="none" stroke="#0b2d5e" stroke-width="2" stroke-linejoin="round" stroke-linecap="butt"/>
<polyline points="251.35,177.90 254.90,177.90 262.00,176.40 269.10,172.00 276.20,155.00 283.30,148.30 290.40,145.40 297.50,142.80 304.60,137.30 311.70,156.60 318.80,177.00 325.90,179.50 333.00,179.50 340.10,179.50" fill="none" stroke="#0b2d5e" stroke-width="2" stroke-linejoin="round" stroke-linecap="butt"/>
<polyline points="251.35,177.90 254.90,177.90 262.00,176.40 269.10,172.00 276.20,155.00 283.30,148.50 290.40,145.80 297.50,143.50 304.60,157.30 311.70,168.50 318.80,178.50 325.90,179.50 333.00,179.50 340.10,179.50" fill="none" stroke="#0b2e5f" stroke-width="2" stroke-linejoin="round" stroke-linecap="butt"/>
<polyline points="251.35,177.90 254.90,177.90 262.00,176.40 269.10,172.00 276.20,155.30 283.30,148.50 290.40,145.60 297.50,143.00 304.60,137.80 311.70,157.00 318.80,177.30 325.90,179.50 333.00,179.50 340.10,179.50" fill="none" stroke="#0d3160" stroke-width="2" stroke-linejoin="round" stroke-linecap="butt"/>
<polyline points="251.35,177.90 254.90,177.90 262.00,176.40 269.10,172.00 276.20,155.30 283.30,148.80 290.40,146.00 297.50,143.80 304.60,157.80 311.70,169.00 318.80,178.50 325.90,179.50 333.00,179.50 340.10,179.50" fill="none" stroke="#0f3663" stroke-width="2" stroke-linejoin="round" stroke-linecap="butt"/>
<polyline points="251.35,177.90 254.90,177.90 262.00,176.40 269.10,172.00 276.20,158.50 283.30,158.00 290.40,160.00 297.50,162.50 304.60,166.00 311.70,171.00 318.80,178.00 325.90,179.50 333.00,179.50 340.10,179.50" fill="none" stroke="#134068" stroke-width="2" stroke-linejoin="round" stroke-linecap="butt"/>
<polyline points="251.35,177.90 254.90,177.90 262.00,176.40 269.10,172.00 276.20,158.80 283.30,158.60 290.40,160.50 297.50,163.00 304.60,166.50 311.70,172.00 318.80,178.50 325.90,179.50 333.00,179.50 340.10,179.50" fill="none" stroke="#194f70" stroke-width="2" stroke-linejoin="round" stroke-linecap="butt"/>
<polyline points="251.35,177.90 254.90,177.90 262.00,176.40 269.10,172.00 276.20,172.90 283.30,174.90 290.40,173.90 297.50,174.90 304.60,177.00 311.70,179.50 318.80,179.50 325.90,179.50 333.00,179.50 340.10,179.50" fill="none" stroke="#23657c" stroke-width="2" stroke-linejoin="round" stroke-linecap="butt"/>
<polyline points="251.35,177.90 254.90,177.90 262.00,176.40 269.10,172.00 276.20,174.50 283.30,176.50 290.40,175.50 297.50,176.50 304.60,178.00 311.70,179.50 318.80,179.50 325.90,179.50 333.00,179.50 340.10,179.50" fill="none" stroke="#2f838b" stroke-width="2" stroke-linejoin="round" stroke-linecap="butt"/>
<polyline points="251.35,177.90 254.90,177.90 262.00,176.40 269.10,172.00 276.20,178.50 283.30,179.50 290.40,179.50 297.50,179.50 304.60,179.50 311.70,179.50 318.80,179.50 325.90,179.50 333.00,179.50 340.10,179.50" fill="none" stroke="#40aaa0" stroke-width="2" stroke-linejoin="round" stroke-linecap="butt"/>
<path d="M251.10,104.40 V181.50 H344.20" fill="none" stroke="#262626" stroke-width="1" stroke-linecap="square"/>
<path d="M248.90,180.40 H251.10 M248.90,167.80 H251.10 M248.90,155.20 H251.10 M248.90,142.60 H251.10 M248.90,130.00 H251.10 M248.90,117.40 H251.10 M248.90,104.80 H251.10 M254.90,181.50 v2.2 M290.40,181.50 v2.2 M325.90,181.50 v2.2 " stroke="#262626" stroke-width="0.9" fill="none"/>
<path d="M253.28,181.50 v1.3 M265.59,181.50 v1.3 M271.84,181.50 v1.3 M276.27,181.50 v1.3 M279.71,181.50 v1.3 M282.52,181.50 v1.3 M284.90,181.50 v1.3 M286.96,181.50 v1.3 M288.78,181.50 v1.3 M301.09,181.50 v1.3 M307.34,181.50 v1.3 M311.77,181.50 v1.3 M315.21,181.50 v1.3 M318.02,181.50 v1.3 M320.40,181.50 v1.3 M322.46,181.50 v1.3 M324.28,181.50 v1.3 M336.59,181.50 v1.3 M342.84,181.50 v1.3 " stroke="#262626" stroke-width="0.7" fill="none"/>
<polyline points="363.15,177.80 366.70,177.60 373.80,176.40 380.90,175.00 388.00,172.90 395.10,179.70 402.20,180.10 409.30,180.10 416.40,180.10 423.50,180.10 430.60,180.10 437.70,180.10 444.80,180.10 451.90,180.10" fill="none" stroke="#19556e" stroke-width="2" stroke-linejoin="round" stroke-linecap="butt"/>
<polyline points="363.15,177.80 366.70,177.60 373.80,176.40 380.90,175.00 388.00,172.90 395.10,179.70 402.20,180.10 409.30,180.10 416.40,180.10 423.50,180.10 430.60,180.10 437.70,180.10 444.80,180.10 451.90,180.10" fill="none" stroke="#1b5a71" stroke-width="2" stroke-linejoin="round" stroke-linecap="butt"/>
<polyline points="363.15,177.80 366.70,177.60 373.80,176.40 380.90,175.00 388.00,172.90 395.10,179.70 402.20,180.10 409.30,180.10 416.40,180.10 423.50,180.10 430.60,180.10 437.70,180.10 444.80,180.10 451.90,180.10" fill="none" stroke="#1c5f74" stroke-width="2" stroke-linejoin="round" stroke-linecap="butt"/>
<polyline points="363.15,177.80 366.70,177.60 373.80,176.40 380.90,175.00 388.00,172.90 395.10,179.70 402.20,180.10 409.30,180.10 416.40,180.10 423.50,180.10 430.60,180.10 437.70,180.10 444.80,180.10 451.90,180.10" fill="none" stroke="#1e6377" stroke-width="2" stroke-linejoin="round" stroke-linecap="butt"/>
<polyline points="363.15,177.80 366.70,177.60 373.80,176.40 380.90,175.00 388.00,172.90 395.10,179.70 402.20,180.10 409.30,180.10 416.40,180.10 423.50,180.10 430.60,180.10 437.70,180.10 444.80,180.10 451.90,180.10" fill="none" stroke="#20687a" stroke-width="2" stroke-linejoin="round" stroke-linecap="butt"/>
<polyline points="363.15,177.80 366.70,177.60 373.80,176.40 380.90,175.00 388.00,172.90 395.10,179.70 402.20,180.10 409.30,180.10 416.40,180.10 423.50,180.10 430.60,180.10 437.70,180.10 444.80,180.10 451.90,180.10" fill="none" stroke="#216d7e" stroke-width="2" stroke-linejoin="round" stroke-linecap="butt"/>
<polyline points="363.15,177.80 366.70,177.60 373.80,176.40 380.90,173.50 388.00,173.50 395.10,179.70 402.20,180.10 409.30,180.10 416.40,180.10 423.50,180.10 430.60,180.10 437.70,180.10 444.80,180.10 451.90,180.10" fill="none" stroke="#237281" stroke-width="2" stroke-linejoin="round" stroke-linecap="butt"/>
<polyline points="363.15,177.80 366.70,177.60 373.80,176.40 380.90,172.50 388.00,173.50 395.10,179.70 402.20,180.10 409.30,180.10 416.40,180.10 423.50,180.10 430.60,180.10 437.70,180.10 444.80,180.10 451.90,180.10" fill="none" stroke="#257684" stroke-width="2" stroke-linejoin="round" stroke-linecap="butt"/>
<polyline points="363.15,177.80 366.70,177.60 373.80,176.40 380.90,171.50 388.00,173.50 395.10,179.70 402.20,180.10 409.30,180.10 416.40,180.10 423.50,180.10 430.60,180.10 437.70,180.10 444.80,180.10 451.90,180.10" fill="none" stroke="#267b87" stroke-width="2" stroke-linejoin="round" stroke-linecap="butt"/>
<polyline points="363.15,177.80 366.70,177.60 373.80,176.40 380.90,170.50 388.00,173.50 395.10,179.70 402.20,180.10 409.30,180.10 416.40,180.10 423.50,180.10 430.60,180.10 437.70,180.10 444.80,180.10 451.90,180.10" fill="none" stroke="#28808a" stroke-width="2" stroke-linejoin="round" stroke-linecap="butt"/>
<path d="M362.90,104.40 V181.50 H456.00" fill="none" stroke="#262626" stroke-width="1" stroke-linecap="square"/>
<path d="M360.70,180.40 H362.90 M360.70,167.80 H362.90 M360.70,155.20 H362.90 M360.70,142.60 H362.90 M360.70,130.00 H362.90 M360.70,117.40 H362.90 M360.70,104.80 H362.90 M366.70,181.50 v2.2 M402.20,181.50 v2.2 M437.70,181.50 v2.2 " stroke="#262626" stroke-width="0.9" fill="none"/>
<path d="M365.08,181.50 v1.3 M377.39,181.50 v1.3 M383.64,181.50 v1.3 M388.07,181.50 v1.3 M391.51,181.50 v1.3 M394.32,181.50 v1.3 M396.70,181.50 v1.3 M398.76,181.50 v1.3 M400.58,181.50 v1.3 M412.89,181.50 v1.3 M419.14,181.50 v1.3 M423.57,181.50 v1.3 M427.01,181.50 v1.3 M429.82,181.50 v1.3 M432.20,181.50 v1.3 M434.26,181.50 v1.3 M436.08,181.50 v1.3 M448.39,181.50 v1.3 M454.64,181.50 v1.3 " stroke="#262626" stroke-width="0.7" fill="none"/>
<polyline points="474.95,177.50 478.50,177.40 485.60,176.00 492.70,173.20 499.80,154.20 506.90,147.10 514.00,161.40 521.10,170.60 528.20,177.70 535.30,179.80 542.40,179.80 549.50,179.80 556.60,179.80 563.70,179.80" fill="none" stroke="#0b2d5e" stroke-width="2" stroke-linejoin="round" stroke-linecap="butt"/>
<polyline points="474.95,177.50 478.50,177.40 485.60,176.00 492.70,173.20 499.80,155.70 506.90,148.50 514.00,163.50 521.10,172.80 528.20,169.90 535.30,178.50 542.40,179.80 549.50,179.80 556.60,179.80 563.70,179.80" fill="none" stroke="#0b2d5e" stroke-width="2" stroke-linejoin="round" stroke-linecap="butt"/>
<polyline points="474.95,177.50 478.50,177.40 485.60,176.00 492.70,173.20 499.80,156.50 506.90,150.00 514.00,160.00 521.10,171.00 528.20,177.00 535.30,179.50 542.40,179.80 549.50,179.80 556.60,179.80 563.70,179.80" fill="none" stroke="#0b2e5f" stroke-width="2" stroke-linejoin="round" stroke-linecap="butt"/>
<polyline points="474.95,177.50 478.50,177.40 485.60,176.00 492.70,173.20 499.80,158.00 506.90,152.00 514.00,162.00 521.10,172.00 528.20,177.50 535.30,179.50 542.40,179.80 549.50,179.80 556.60,179.80 563.70,179.80" fill="none" stroke="#0d3160" stroke-width="2" stroke-linejoin="round" stroke-linecap="butt"/>
<polyline points="474.95,177.50 478.50,177.40 485.60,176.00 492.70,173.20 499.80,164.90 506.90,169.20 514.00,166.40 521.10,174.20 528.20,178.50 535.30,179.80 542.40,179.80 549.50,179.80 556.60,179.80 563.70,179.80" fill="none" stroke="#0f3663" stroke-width="2" stroke-linejoin="round" stroke-linecap="butt"/>
<polyline points="474.95,177.50 478.50,177.40 485.60,176.00 492.70,173.20 499.80,166.40 506.90,170.60 514.00,168.50 521.10,174.90 528.20,178.80 535.30,179.80 542.40,179.80 549.50,179.80 556.60,179.80 563.70,179.80" fill="none" stroke="#134068" stroke-width="2" stroke-linejoin="round" stroke-linecap="butt"/>
<polyline points="474.95,177.50 478.50,177.40 485.60,176.00 492.70,173.20 499.80,168.50 506.90,172.80 514.00,171.30 521.10,175.60 528.20,179.50 535.30,179.80 542.40,179.80 549.50,179.80 556.60,179.80 563.70,179.80" fill="none" stroke="#194f70" stroke-width="2" stroke-linejoin="round" stroke-linecap="butt"/>
<polyline points="474.95,177.50 478.50,177.40 485.60,176.00 492.70,173.20 499.80,170.60 506.90,176.00 514.00,175.00 521.10,177.00 528.20,179.50 535.30,179.80 542.40,179.80 549.50,179.80 556.60,179.80 563.70,179.80" fill="none" stroke="#23657c" stroke-width="2" stroke-linejoin="round" stroke-linecap="butt"/>
<polyline points="474.95,177.50 478.50,177.40 485.60,176.00 492.70,173.20 499.80,170.60 506.90,177.70 514.00,178.50 521.10,178.50 528.20,178.80 535.30,178.80 542.40,178.80 549.50,178.80 556.60,178.80 563.70,178.60" fill="none" stroke="#2f838b" stroke-width="2" stroke-linejoin="round" stroke-linecap="butt"/>
<polyline points="474.95,177.50 478.50,177.40 485.60,176.00 492.70,173.20 499.80,172.80 506.90,178.80 514.00,178.80 521.10,178.80 528.20,178.80 535.30,178.80 542.40,178.80 549.50,178.80 556.60,178.80 563.70,178.60" fill="none" stroke="#40aaa0" stroke-width="2" stroke-linejoin="round" stroke-linecap="butt"/>
<path d="M474.70,104.40 V181.50 H567.80" fill="none" stroke="#262626" stroke-width="1" stroke-linecap="square"/>
<path d="M472.50,180.40 H474.70 M472.50,167.80 H474.70 M472.50,155.20 H474.70 M472.50,142.60 H474.70 M472.50,130.00 H474.70 M472.50,117.40 H474.70 M472.50,104.80 H474.70 M478.50,181.50 v2.2 M514.00,181.50 v2.2 M549.50,181.50 v2.2 " stroke="#262626" stroke-width="0.9" fill="none"/>
<path d="M476.88,181.50 v1.3 M489.19,181.50 v1.3 M495.44,181.50 v1.3 M499.87,181.50 v1.3 M503.31,181.50 v1.3 M506.12,181.50 v1.3 M508.50,181.50 v1.3 M510.56,181.50 v1.3 M512.38,181.50 v1.3 M524.69,181.50 v1.3 M530.94,181.50 v1.3 M535.37,181.50 v1.3 M538.81,181.50 v1.3 M541.62,181.50 v1.3 M544.00,181.50 v1.3 M546.06,181.50 v1.3 M547.88,181.50 v1.3 M560.19,181.50 v1.3 M566.44,181.50 v1.3 " stroke="#262626" stroke-width="0.7" fill="none"/>
<polyline points="27.75,272.90 31.30,272.90 38.40,272.90 45.50,272.90 52.60,272.90 59.70,272.50 66.80,265.00 73.90,209.50 81.00,265.00 88.10,272.50 95.20,272.90 102.30,272.90 109.40,272.90 116.50,272.90" fill="none" stroke="#0b2d5e" stroke-width="2" stroke-linejoin="round" stroke-linecap="butt"/>
<polyline points="27.75,272.90 31.30,272.90 38.40,272.90 45.50,272.90 52.60,272.90 59.70,272.50 66.80,267.00 73.90,225.00 81.00,266.00 88.10,272.50 95.20,272.90 102.30,272.90 109.40,272.90 116.50,272.90" fill="none" stroke="#0b2d5e" stroke-width="2" stroke-linejoin="round" stroke-linecap="butt"/>
<polyline points="27.75,272.90 31.30,272.90 38.40,272.90 45.50,272.90 52.60,272.90 59.70,272.50 66.80,268.00 73.90,232.00 81.00,267.00 88.10,272.50 95.20,272.90 102.30,272.90 109.40,272.90 116.50,272.90" fill="none" stroke="#0b2e5f" stroke-width="2" stroke-linejoin="round" stroke-linecap="butt"/>
<polyline points="27.75,272.90 31.30,272.90 38.40,272.90 45.50,272.90 52.60,272.90 59.70,272.50 66.80,269.00 73.90,262.80 81.00,269.50 88.10,272.60 95.20,272.90 102.30,272.90 109.40,272.90 116.50,272.90" fill="none" stroke="#0d3160" stroke-width="2" stroke-linejoin="round" stroke-linecap="butt"/>
<polyline points="27.75,272.90 31.30,272.90 38.40,272.90 45.50,272.90 52.60,272.90 59.70,272.50 66.80,268.00 73.90,266.00 81.00,268.00 88.10,272.60 95.20,272.90 102.30,272.90 109.40,272.90 116.50,272.90" fill="none" stroke="#0f3663" stroke-width="2" stroke-linejoin="round" stroke-linecap="butt"/>
<polyline points="27.75,272.90 31.30,272.90 38.40,272.90 45.50,272.90 52.60,272.60 59.70,266.00 66.80,254.00 73.90,236.00 81.00,262.00 88.10,272.50 95.20,272.90 102.30,272.90 109.40,272.90 116.50,272.90" fill="none" stroke="#134068" stroke-width="2" stroke-linejoin="round" stroke-linecap="butt"/>
<polyline points="27.75,272.90 31.30,272.90 38.40,272.90 45.50,272.90 52.60,272.60 59.70,264.00 66.80,250.00 73.90,239.40 81.00,263.00 88.10,272.50 95.20,272.90 102.30,272.90 109.40,272.90 116.50,272.90" fill="none" stroke="#194f70" stroke-width="2" stroke-linejoin="round" stroke-linecap="butt"/>
<polyline points="27.75,272.90 31.30,272.90 38.40,272.90 45.50,272.90 52.60,272.60 59.70,262.00 66.80,246.40 73.90,229.00 81.00,261.00 88.10,272.00 95.20,272.90 102.30,272.90 109.40,272.90 116.50,272.90" fill="none" stroke="#23657c" stroke-width="2" stroke-linejoin="round" stroke-linecap="butt"/>
<polyline points="27.75,272.90 31.30,272.90 38.40,272.90 45.50,272.90 52.60,272.60 59.70,264.00 66.80,248.00 73.90,241.00 81.00,264.00 88.10,272.50 95.20,272.90 102.30,272.90 109.40,272.90 116.50,272.90" fill="none" stroke="#2f838b" stroke-width="2" stroke-linejoin="round" stroke-linecap="butt"/>
<polyline points="27.75,272.90 31.30,272.90 38.40,272.90 45.50,272.90 52.60,272.90 59.70,272.50 66.80,269.80 73.90,251.80 81.00,269.80 88.10,272.60 95.20,272.90 102.30,272.90 109.40,272.90 116.50,272.90" fill="none" stroke="#40aaa0" stroke-width="2" stroke-linejoin="round" stroke-linecap="butt"/>
<path d="M27.50,197.40 V274.40 H120.60" fill="none" stroke="#262626" stroke-width="1" stroke-linecap="square"/>
<path d="M25.30,273.30 H27.50 M25.30,254.23 H27.50 M25.30,235.15 H27.50 M25.30,216.07 H27.50 M25.30,197.00 H27.50 M31.30,274.40 v2.2 M66.80,274.40 v2.2 M102.30,274.40 v2.2 " stroke="#262626" stroke-width="0.9" fill="none"/>
<path d="M29.68,274.40 v1.3 M41.99,274.40 v1.3 M48.24,274.40 v1.3 M52.67,274.40 v1.3 M56.11,274.40 v1.3 M58.92,274.40 v1.3 M61.30,274.40 v1.3 M63.36,274.40 v1.3 M65.18,274.40 v1.3 M77.49,274.40 v1.3 M83.74,274.40 v1.3 M88.17,274.40 v1.3 M91.61,274.40 v1.3 M94.42,274.40 v1.3 M96.80,274.40 v1.3 M98.86,274.40 v1.3 M100.68,274.40 v1.3 M112.99,274.40 v1.3 M119.24,274.40 v1.3 " stroke="#262626" stroke-width="0.7" fill="none"/>
<text x="24.10" y="275.90" font-size="5.75" text-anchor="end" fill="#262626">0</text>
<text x="24.10" y="256.83" font-size="5.75" text-anchor="end" fill="#262626">100</text>
<text x="24.10" y="237.75" font-size="5.75" text-anchor="end" fill="#262626">200</text>
<text x="24.10" y="218.67" font-size="5.75" text-anchor="end" fill="#262626">300</text>
<text x="24.10" y="199.60" font-size="5.75" text-anchor="end" fill="#262626">400</text>
<text x="31.30" y="282.7" font-size="5.75" text-anchor="middle" fill="#262626">10<tspan font-size="4.2" dy="-2.5">−2</tspan></text>
<text x="66.80" y="282.7" font-size="5.75" text-anchor="middle" fill="#262626">10<tspan font-size="4.2" dy="-2.5">−1</tspan></text>
<text x="102.30" y="282.7" font-size="5.75" text-anchor="middle" fill="#262626">10<tspan font-size="4.2" dy="-2.5">0</tspan></text>
<text x="74.05" y="292.0" font-size="7.35" text-anchor="middle" fill="#262626">Coupling</text>
<polyline points="139.55,272.90 143.10,272.90 150.20,272.90 157.30,272.90 164.40,272.90 171.50,272.90 178.60,272.90 185.70,272.90 192.80,272.50 199.90,223.50 207.00,235.30 214.10,264.00 221.20,271.50 228.30,272.90" fill="none" stroke="#0b2d5e" stroke-width="2" stroke-linejoin="round" stroke-linecap="butt"/>
<polyline points="139.55,272.90 143.10,272.90 150.20,272.90 157.30,272.90 164.40,272.90 171.50,272.90 178.60,272.90 185.70,272.90 192.80,272.50 199.90,234.30 207.00,249.60 214.10,268.00 221.20,272.90 228.30,272.90" fill="none" stroke="#0b2d5e" stroke-width="2" stroke-linejoin="round" stroke-linecap="butt"/>
<polyline points="139.55,272.90 143.10,272.90 150.20,272.90 157.30,272.90 164.40,272.90 171.50,272.90 178.60,272.90 185.70,272.90 192.80,272.50 199.90,249.00 207.00,250.00 214.10,269.00 221.20,272.90 228.30,272.90" fill="none" stroke="#0b2e5f" stroke-width="2" stroke-linejoin="round" stroke-linecap="butt"/>
<polyline points="139.55,272.90 143.10,272.90 150.20,272.90 157.30,272.90 164.40,272.90 171.50,272.00 178.60,265.50 185.70,253.50 192.80,261.00 199.90,272.50 207.00,272.90 214.10,272.90 221.20,272.90 228.30,272.90" fill="none" stroke="#0d3160" stroke-width="2" stroke-linejoin="round" stroke-linecap="butt"/>
<polyline points="139.55,272.90 143.10,272.90 150.20,272.90 157.30,272.90 164.40,272.90 171.50,271.50 178.60,265.00 185.70,253.00 192.80,260.50 199.90,272.50 207.00,272.90 214.10,272.90 221.20,272.90 228.30,272.90" fill="none" stroke="#0f3663" stroke-width="2" stroke-linejoin="round" stroke-linecap="butt"/>
<polyline points="139.55,272.90 143.10,272.90 150.20,272.90 157.30,272.90 164.40,272.90 171.50,271.50 178.60,263.50 185.70,249.20 192.80,257.50 199.90,272.50 207.00,272.90 214.10,272.90 221.20,272.90 228.30,272.90" fill="none" stroke="#134068" stroke-width="2" stroke-linejoin="round" stroke-linecap="butt"/>
<polyline points="139.55,272.90 143.10,272.90 150.20,272.90 157.30,272.90 164.40,272.90 171.50,271.50 178.60,263.00 185.70,248.80 192.80,257.00 199.90,272.50 207.00,272.90 214.10,272.90 221.20,272.90 228.30,272.90" fill="none" stroke="#194f70" stroke-width="2" stroke-linejoin="round" stroke-linecap="butt"/>
<polyline points="139.55,272.90 143.10,272.90 150.20,272.90 157.30,272.90 164.40,272.90 171.50,270.80 178.60,254.00 185.70,236.40 192.80,245.30 199.90,271.50 207.00,272.90 214.10,272.90 221.20,272.90 228.30,272.90" fill="none" stroke="#23657c" stroke-width="2" stroke-linejoin="round" stroke-linecap="butt"/>
<polyline points="139.55,272.90 143.10,272.90 150.20,272.90 157.30,272.90 164.40,272.90 171.50,271.00 178.60,258.00 185.70,244.80 192.80,252.00 199.90,272.50 207.00,272.90 214.10,272.90 221.20,272.90 228.30,272.90" fill="none" stroke="#2f838b" stroke-width="2" stroke-linejoin="round" stroke-linecap="butt"/>
<polyline points="139.55,272.90 143.10,272.90 150.20,272.90 157.30,272.90 164.40,272.90 171.50,272.90 178.60,271.00 185.70,268.70 192.80,272.00 199.90,272.90 207.00,272.90 214.10,272.90 221.20,272.90 228.30,272.90" fill="none" stroke="#40aaa0" stroke-width="2" stroke-linejoin="round" stroke-linecap="butt"/>
<path d="M139.30,197.40 V274.40 H232.40" fill="none" stroke="#262626" stroke-width="1" stroke-linecap="square"/>
<path d="M137.10,273.30 H139.30 M137.10,254.23 H139.30 M137.10,235.15 H139.30 M137.10,216.07 H139.30 M137.10,197.00 H139.30 M143.10,274.40 v2.2 M178.60,274.40 v2.2 M214.10,274.40 v2.2 " stroke="#262626" stroke-width="0.9" fill="none"/>
<path d="M141.48,274.40 v1.3 M153.79,274.40 v1.3 M160.04,274.40 v1.3 M164.47,274.40 v1.3 M167.91,274.40 v1.3 M170.72,274.40 v1.3 M173.10,274.40 v1.3 M175.16,274.40 v1.3 M176.98,274.40 v1.3 M189.29,274.40 v1.3 M195.54,274.40 v1.3 M199.97,274.40 v1.3 M203.41,274.40 v1.3 M206.22,274.40 v1.3 M208.60,274.40 v1.3 M210.66,274.40 v1.3 M212.48,274.40 v1.3 M224.79,274.40 v1.3 M231.04,274.40 v1.3 " stroke="#262626" stroke-width="0.7" fill="none"/>
<text x="143.10" y="282.7" font-size="5.75" text-anchor="middle" fill="#262626">10<tspan font-size="4.2" dy="-2.5">−2</tspan></text>
<text x="178.60" y="282.7" font-size="5.75" text-anchor="middle" fill="#262626">10<tspan font-size="4.2" dy="-2.5">−1</tspan></text>
<text x="214.10" y="282.7" font-size="5.75" text-anchor="middle" fill="#262626">10<tspan font-size="4.2" dy="-2.5">0</tspan></text>
<text x="185.85" y="292.0" font-size="7.35" text-anchor="middle" fill="#262626">Coupling</text>
<polyline points="251.35,272.90 254.90,272.90 262.00,272.90 269.10,272.90 276.20,272.90 283.30,272.90 290.40,266.00 297.50,247.50 304.60,239.70 311.70,271.00 318.80,272.90 325.90,272.90 333.00,272.90 340.10,272.90" fill="none" stroke="#0b2d5e" stroke-width="2" stroke-linejoin="round" stroke-linecap="butt"/>
<polyline points="251.35,272.90 254.90,272.90 262.00,272.90 269.10,272.90 276.20,272.90 283.30,272.90 290.40,266.00 297.50,256.00 304.60,252.00 311.70,268.00 318.80,272.50 325.90,272.90 333.00,272.90 340.10,272.90" fill="none" stroke="#0b2d5e" stroke-width="2" stroke-linejoin="round" stroke-linecap="butt"/>
<polyline points="251.35,272.90 254.90,272.90 262.00,272.90 269.10,272.90 276.20,272.90 283.30,272.50 290.40,267.20 297.50,262.30 304.60,260.30 311.70,269.20 318.80,259.30 325.90,272.50 333.00,272.90 340.10,272.90" fill="none" stroke="#0b2e5f" stroke-width="2" stroke-linejoin="round" stroke-linecap="butt"/>
<polyline points="251.35,272.90 254.90,272.90 262.00,272.90 269.10,272.90 276.20,272.90 283.30,272.50 290.40,267.50 297.50,263.00 304.60,261.00 311.70,269.50 318.80,262.00 325.90,272.50 333.00,272.90 340.10,272.90" fill="none" stroke="#0d3160" stroke-width="2" stroke-linejoin="round" stroke-linecap="butt"/>
<polyline points="251.35,272.90 254.90,272.90 262.00,272.90 269.10,272.90 276.20,272.90 283.30,272.50 290.40,266.50 297.50,256.50 304.60,252.50 311.70,268.30 318.80,272.50 325.90,272.90 333.00,272.90 340.10,272.90" fill="none" stroke="#0f3663" stroke-width="2" stroke-linejoin="round" stroke-linecap="butt"/>
<polyline points="251.35,272.90 254.90,272.90 262.00,272.90 269.10,272.90 276.20,272.90 283.30,272.50 290.40,266.80 297.50,261.50 304.60,259.50 311.70,269.00 318.80,271.00 325.90,272.90 333.00,272.90 340.10,272.90" fill="none" stroke="#134068" stroke-width="2" stroke-linejoin="round" stroke-linecap="butt"/>
<polyline points="251.35,272.90 254.90,272.90 262.00,272.90 269.10,272.90 276.20,272.90 283.30,272.00 290.40,257.50 297.50,248.00 304.60,249.00 311.70,266.00 318.80,272.50 325.90,272.90 333.00,272.90 340.10,272.90" fill="none" stroke="#194f70" stroke-width="2" stroke-linejoin="round" stroke-linecap="butt"/>
<polyline points="251.35,272.90 254.90,272.90 262.00,272.90 269.10,272.90 276.20,272.90 283.30,272.00 290.40,255.40 297.50,247.50 304.60,244.60 311.70,265.20 318.80,272.50 325.90,272.90 333.00,272.90 340.10,272.90" fill="none" stroke="#23657c" stroke-width="2" stroke-linejoin="round" stroke-linecap="butt"/>
<polyline points="251.35,272.90 254.90,272.90 262.00,272.90 269.10,272.90 276.20,272.90 283.30,272.00 290.40,259.30 297.50,248.00 304.60,256.40 311.70,268.00 318.80,272.50 325.90,272.90 333.00,272.90 340.10,272.90" fill="none" stroke="#2f838b" stroke-width="2" stroke-linejoin="round" stroke-linecap="butt"/>
<polyline points="251.35,272.90 254.90,272.90 262.00,272.90 269.10,272.90 276.20,272.90 283.30,272.90 290.40,272.00 297.50,270.00 304.60,272.50 311.70,272.90 318.80,272.90 325.90,272.90 333.00,272.90 340.10,272.90" fill="none" stroke="#40aaa0" stroke-width="2" stroke-linejoin="round" stroke-linecap="butt"/>
<path d="M251.10,197.40 V274.40 H344.20" fill="none" stroke="#262626" stroke-width="1" stroke-linecap="square"/>
<path d="M248.90,273.30 H251.10 M248.90,254.23 H251.10 M248.90,235.15 H251.10 M248.90,216.07 H251.10 M248.90,197.00 H251.10 M254.90,274.40 v2.2 M290.40,274.40 v2.2 M325.90,274.40 v2.2 " stroke="#262626" stroke-width="0.9" fill="none"/>
<path d="M253.28,274.40 v1.3 M265.59,274.40 v1.3 M271.84,274.40 v1.3 M276.27,274.40 v1.3 M279.71,274.40 v1.3 M282.52,274.40 v1.3 M284.90,274.40 v1.3 M286.96,274.40 v1.3 M288.78,274.40 v1.3 M301.09,274.40 v1.3 M307.34,274.40 v1.3 M311.77,274.40 v1.3 M315.21,274.40 v1.3 M318.02,274.40 v1.3 M320.40,274.40 v1.3 M322.46,274.40 v1.3 M324.28,274.40 v1.3 M336.59,274.40 v1.3 M342.84,274.40 v1.3 " stroke="#262626" stroke-width="0.7" fill="none"/>
<text x="254.90" y="282.7" font-size="5.75" text-anchor="middle" fill="#262626">10<tspan font-size="4.2" dy="-2.5">−2</tspan></text>
<text x="290.40" y="282.7" font-size="5.75" text-anchor="middle" fill="#262626">10<tspan font-size="4.2" dy="-2.5">−1</tspan></text>
<text x="325.90" y="282.7" font-size="5.75" text-anchor="middle" fill="#262626">10<tspan font-size="4.2" dy="-2.5">0</tspan></text>
<text x="297.65" y="292.0" font-size="7.35" text-anchor="middle" fill="#262626">Coupling</text>
<polyline points="363.15,272.90 366.70,272.90 373.80,272.90 380.90,272.90 388.00,272.90 395.10,272.90 402.20,272.50 409.30,271.60 416.40,272.50 423.50,272.90 430.60,272.90 437.70,272.90 444.80,272.90 451.90,272.90" fill="none" stroke="#195a70" stroke-width="2" stroke-linejoin="round" stroke-linecap="butt"/>
<polyline points="363.15,272.90 366.70,272.90 373.80,272.90 380.90,272.90 388.00,272.90 395.10,272.90 402.20,272.50 409.30,271.60 416.40,272.50 423.50,272.90 430.60,272.90 437.70,272.90 444.80,272.90 451.90,272.90" fill="none" stroke="#1c6174" stroke-width="2" stroke-linejoin="round" stroke-linecap="butt"/>
<polyline points="363.15,272.90 366.70,272.90 373.80,272.90 380.90,272.90 388.00,272.90 395.10,272.90 402.20,272.50 409.30,271.60 416.40,272.50 423.50,272.90 430.60,272.90 437.70,272.90 444.80,272.90 451.90,272.90" fill="none" stroke="#1f6778" stroke-width="2" stroke-linejoin="round" stroke-linecap="butt"/>
<polyline points="363.15,272.90 366.70,272.90 373.80,272.90 380.90,272.90 388.00,272.90 395.10,272.90 402.20,271.40 409.30,261.60 416.40,270.70 423.50,272.90 430.60,272.90 437.70,272.90 444.80,272.90 451.90,272.90" fill="none" stroke="#25707f" stroke-width="2" stroke-linejoin="round" stroke-linecap="butt"/>
<polyline points="363.15,272.90 366.70,272.90 373.80,272.90 380.90,272.90 388.00,272.90 395.10,272.90 402.20,271.40 409.30,261.60 416.40,270.70 423.50,272.90 430.60,272.90 437.70,272.90 444.80,272.90 451.90,272.90" fill="none" stroke="#25707f" stroke-width="2" stroke-linejoin="round" stroke-linecap="butt"/>
<polyline points="363.15,272.90 366.70,272.90 373.80,272.90 380.90,272.90 388.00,272.90 395.10,272.90 402.20,272.50 409.30,271.60 416.40,272.50 423.50,272.90 430.60,272.90 437.70,272.90 444.80,272.90 451.90,272.90" fill="none" stroke="#277b85" stroke-width="2" stroke-linejoin="round" stroke-linecap="butt"/>
<polyline points="363.15,272.90 366.70,272.90 373.80,272.90 380.90,272.90 388.00,272.90 395.10,272.90 402.20,272.50 409.30,271.60 416.40,272.50 423.50,272.90 430.60,272.90 437.70,272.90 444.80,272.90 451.90,272.90" fill="none" stroke="#2a8289" stroke-width="2" stroke-linejoin="round" stroke-linecap="butt"/>
<polyline points="363.15,272.90 366.70,272.90 373.80,272.90 380.90,272.90 388.00,272.90 395.10,272.90 402.20,272.50 409.30,271.60 416.40,272.50 423.50,272.90 430.60,272.90 437.70,272.90 444.80,272.90 451.90,272.90" fill="none" stroke="#2c898e" stroke-width="2" stroke-linejoin="round" stroke-linecap="butt"/>
<polyline points="363.15,272.90 366.70,272.90 373.80,272.90 380.90,272.90 388.00,272.90 395.10,272.90 402.20,272.50 409.30,271.60 416.40,272.50 423.50,272.90 430.60,272.90 437.70,272.90 444.80,272.90 451.90,272.90" fill="none" stroke="#2f8f92" stroke-width="2" stroke-linejoin="round" stroke-linecap="butt"/>
<polyline points="363.15,272.90 366.70,272.90 373.80,272.90 380.90,272.90 388.00,272.90 395.10,272.90 402.20,272.50 409.30,271.60 416.40,272.50 423.50,272.90 430.60,272.90 437.70,272.90 444.80,272.90 451.90,272.90" fill="none" stroke="#329696" stroke-width="2" stroke-linejoin="round" stroke-linecap="butt"/>
<path d="M362.90,197.40 V274.40 H456.00" fill="none" stroke="#262626" stroke-width="1" stroke-linecap="square"/>
<path d="M360.70,273.30 H362.90 M360.70,254.23 H362.90 M360.70,235.15 H362.90 M360.70,216.07 H362.90 M360.70,197.00 H362.90 M366.70,274.40 v2.2 M402.20,274.40 v2.2 M437.70,274.40 v2.2 " stroke="#262626" stroke-width="0.9" fill="none"/>
<path d="M365.08,274.40 v1.3 M377.39,274.40 v1.3 M383.64,274.40 v1.3 M388.07,274.40 v1.3 M391.51,274.40 v1.3 M394.32,274.40 v1.3 M396.70,274.40 v1.3 M398.76,274.40 v1.3 M400.58,274.40 v1.3 M412.89,274.40 v1.3 M419.14,274.40 v1.3 M423.57,274.40 v1.3 M427.01,274.40 v1.3 M429.82,274.40 v1.3 M432.20,274.40 v1.3 M434.26,274.40 v1.3 M436.08,274.40 v1.3 M448.39,274.40 v1.3 M454.64,274.40 v1.3 " stroke="#262626" stroke-width="0.7" fill="none"/>
<text x="366.70" y="282.7" font-size="5.75" text-anchor="middle" fill="#262626">10<tspan font-size="4.2" dy="-2.5">−2</tspan></text>
<text x="402.20" y="282.7" font-size="5.75" text-anchor="middle" fill="#262626">10<tspan font-size="4.2" dy="-2.5">−1</tspan></text>
<text x="437.70" y="282.7" font-size="5.75" text-anchor="middle" fill="#262626">10<tspan font-size="4.2" dy="-2.5">0</tspan></text>
<text x="409.45" y="292.0" font-size="7.35" text-anchor="middle" fill="#262626">Coupling</text>
<polyline points="474.95,272.90 478.50,272.90 485.60,272.90 492.70,272.90 499.80,272.90 506.90,272.90 514.00,270.00 521.10,258.10 528.20,234.50 535.30,264.60 542.40,272.50 549.50,272.90 556.60,272.90 563.70,272.90" fill="none" stroke="#0b2d5e" stroke-width="2" stroke-linejoin="round" stroke-linecap="butt"/>
<polyline points="474.95,272.90 478.50,272.90 485.60,272.90 492.70,272.90 499.80,272.90 506.90,272.00 514.00,268.70 521.10,266.30 528.20,264.60 535.30,266.30 542.40,270.70 549.50,272.90 556.60,272.90 563.70,272.90" fill="none" stroke="#0b2d5e" stroke-width="2" stroke-linejoin="round" stroke-linecap="butt"/>
<polyline points="474.95,272.90 478.50,272.90 485.60,272.90 492.70,272.90 499.80,272.90 506.90,272.00 514.00,267.00 521.10,264.00 528.20,262.00 535.30,265.00 542.40,271.00 549.50,272.90 556.60,272.90 563.70,272.90" fill="none" stroke="#0b2e5f" stroke-width="2" stroke-linejoin="round" stroke-linecap="butt"/>
<polyline points="474.95,272.90 478.50,272.90 485.60,272.90 492.70,272.90 499.80,272.90 506.90,271.50 514.00,265.50 521.10,262.20 528.20,260.00 535.30,265.50 542.40,271.50 549.50,272.90 556.60,272.90 563.70,272.90" fill="none" stroke="#0d3160" stroke-width="2" stroke-linejoin="round" stroke-linecap="butt"/>
<polyline points="474.95,272.90 478.50,272.90 485.60,272.90 492.70,272.90 499.80,272.90 506.90,271.00 514.00,262.00 521.10,261.00 528.20,262.00 535.30,266.00 542.40,272.00 549.50,272.90 556.60,272.90 563.70,272.90" fill="none" stroke="#0f3663" stroke-width="2" stroke-linejoin="round" stroke-linecap="butt"/>
<polyline points="474.95,272.90 478.50,272.90 485.60,272.90 492.70,272.90 499.80,272.90 506.90,271.00 514.00,260.00 521.10,260.60 528.20,263.80 535.30,266.00 542.40,272.00 549.50,272.90 556.60,272.90 563.70,272.90" fill="none" stroke="#134068" stroke-width="2" stroke-linejoin="round" stroke-linecap="butt"/>
<polyline points="474.95,272.90 478.50,272.90 485.60,272.90 492.70,272.90 499.80,272.90 506.90,271.00 514.00,258.00 521.10,259.00 528.20,261.40 535.30,265.50 542.40,272.00 549.50,272.90 556.60,272.90 563.70,272.90" fill="none" stroke="#194f70" stroke-width="2" stroke-linejoin="round" stroke-linecap="butt"/>
<polyline points="474.95,272.90 478.50,272.90 485.60,272.90 492.70,272.90 499.80,272.90 506.90,271.00 514.00,255.70 521.10,258.00 528.20,262.00 535.30,265.00 542.40,272.00 549.50,272.90 556.60,272.90 563.70,272.90" fill="none" stroke="#23657c" stroke-width="2" stroke-linejoin="round" stroke-linecap="butt"/>
<polyline points="474.95,272.90 478.50,272.90 485.60,272.90 492.70,272.90 499.80,272.90 506.90,271.20 514.00,253.20 521.10,257.30 528.20,263.00 535.30,264.60 542.40,271.20 549.50,272.90 556.60,272.90 563.70,272.90" fill="none" stroke="#2f838b" stroke-width="2" stroke-linejoin="round" stroke-linecap="butt"/>
<polyline points="474.95,272.90 478.50,272.90 485.60,272.90 492.70,272.90 499.80,272.90 506.90,272.00 514.00,262.00 521.10,264.00 528.20,266.00 535.30,268.00 542.40,272.00 549.50,272.90 556.60,272.90 563.70,272.90" fill="none" stroke="#40aaa0" stroke-width="2" stroke-linejoin="round" stroke-linecap="butt"/>
<path d="M474.70,197.40 V274.40 H567.80" fill="none" stroke="#262626" stroke-width="1" stroke-linecap="square"/>
<path d="M472.50,273.30 H474.70 M472.50,254.23 H474.70 M472.50,235.15 H474.70 M472.50,216.07 H474.70 M472.50,197.00 H474.70 M478.50,274.40 v2.2 M514.00,274.40 v2.2 M549.50,274.40 v2.2 " stroke="#262626" stroke-width="0.9" fill="none"/>
<path d="M476.88,274.40 v1.3 M489.19,274.40 v1.3 M495.44,274.40 v1.3 M499.87,274.40 v1.3 M503.31,274.40 v1.3 M506.12,274.40 v1.3 M508.50,274.40 v1.3 M510.56,274.40 v1.3 M512.38,274.40 v1.3 M524.69,274.40 v1.3 M530.94,274.40 v1.3 M535.37,274.40 v1.3 M538.81,274.40 v1.3 M541.62,274.40 v1.3 M544.00,274.40 v1.3 M546.06,274.40 v1.3 M547.88,274.40 v1.3 M560.19,274.40 v1.3 M566.44,274.40 v1.3 " stroke="#262626" stroke-width="0.7" fill="none"/>
<text x="478.50" y="282.7" font-size="5.75" text-anchor="middle" fill="#262626">10<tspan font-size="4.2" dy="-2.5">−2</tspan></text>
<text x="514.00" y="282.7" font-size="5.75" text-anchor="middle" fill="#262626">10<tspan font-size="4.2" dy="-2.5">−1</tspan></text>
<text x="549.50" y="282.7" font-size="5.75" text-anchor="middle" fill="#262626">10<tspan font-size="4.2" dy="-2.5">0</tspan></text>
<text x="521.25" y="292.0" font-size="7.35" text-anchor="middle" fill="#262626">Coupling</text>
<text transform="translate(11.2,50) rotate(-90)" font-size="7.35" text-anchor="middle" fill="#262626">Phase Synchrony</text>
<text transform="translate(7.7,143.3) rotate(-90)" font-size="7.35" text-anchor="middle" fill="#262626">Metastability (<tspan font-style="italic">Xi</tspan>)</text>
<text transform="translate(11.2,235.6) rotate(-90)" font-size="7.35" text-anchor="middle" fill="#262626">VarFCD</text>
<rect x="602.4" y="14.90" width="11.20" height="52.62" fill="#5ac4b2"/>
<rect x="602.4" y="67.22" width="11.20" height="52.62" fill="#42a09b"/>
<rect x="602.4" y="119.54" width="11.20" height="52.62" fill="#2e7b85"/>
<rect x="602.4" y="171.86" width="11.20" height="52.62" fill="#1a5572"/>
<rect x="602.4" y="224.18" width="11.20" height="52.62" fill="#0a2c5e"/>
<path d="M613.60,41.46 H620.10" stroke="#262626" stroke-width="0.9"/>
<text x="622.00" y="45.36" font-size="9.7" fill="#262626" style="stroke-width:0.1px">Random</text>
<path d="M613.60,93.78 H620.10" stroke="#262626" stroke-width="0.9"/>
<text x="622.00" y="97.68" font-size="9.7" fill="#262626" style="stroke-width:0.1px">Soft Random</text>
<path d="M613.60,146.10 H620.10" stroke="#262626" stroke-width="0.9"/>
<text x="622.00" y="150.00" font-size="9.7" fill="#262626" style="stroke-width:0.1px">Small World</text>
<path d="M613.60,198.42 H620.10" stroke="#262626" stroke-width="0.9"/>
<text x="622.00" y="202.32" font-size="9.7" fill="#262626" style="stroke-width:0.1px">Soft Lattice</text>
<path d="M613.60,250.74 H620.10" stroke="#262626" stroke-width="0.9"/>
<text x="622.00" y="254.64" font-size="9.7" fill="#262626" style="stroke-width:0.1px">Lattice</text>
<rect x="602.4" y="14.9" width="11.20" height="261.60" fill="none" stroke="#262626" stroke-width="0.5"/>
</svg>
</body></html>
